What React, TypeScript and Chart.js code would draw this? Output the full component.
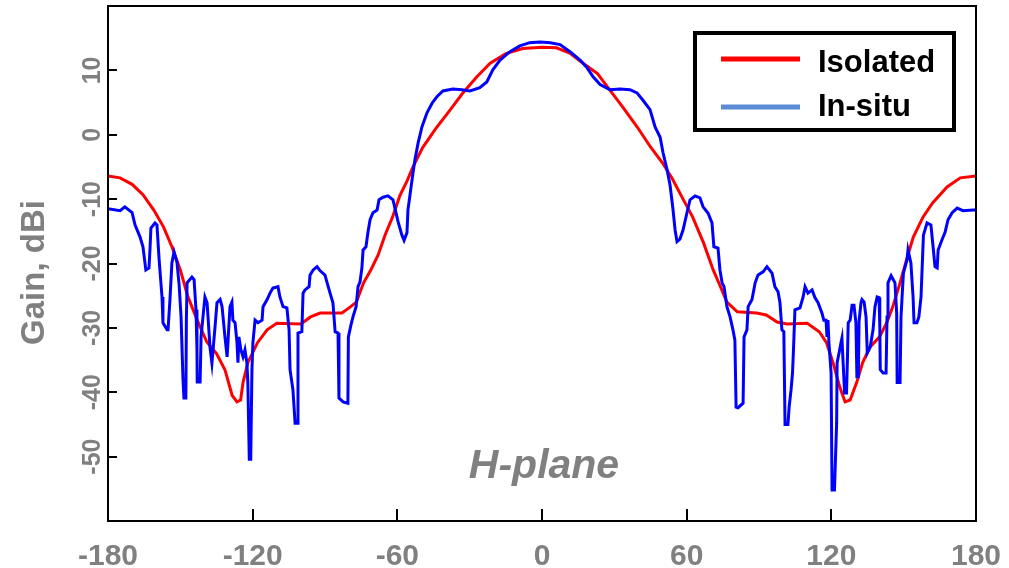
import React, { useEffect, useRef } from "react";
import { Chart, registerables } from "chart.js";

Chart.register(...registerables);

// ---- Data (angle in degrees, gain in dBi) ----
const redAngles = [
  -180, -175, -170, -165.5, -161, -157, -153.5, -150, -147, -143, -139, -135, -131.5, -128.5, -126.5, -125,
  -124, -122, -118, -114, -110, -100, -96, -92, -83, -80, -77, -74, -71, -68, -65, -62, -59, -56, -53.5,
  -49.5, -44, -38, -33, -27, -21.5, -15, -8, 0, 6, 11.5, 17, 23, 28, 33.5, 39.5, 45, 50, 54, 58.5, 62.5, 67,
  71, 74, 76.7, 81, 89, 93, 97.5, 101.5, 110, 115, 118, 120.7, 123.5, 125.7, 127.8, 130.5, 133, 136, 140,
  143, 145.5, 148.5, 151.5, 154, 158, 162, 168, 173.5, 180,
];
const redGain = [
  -6.4, -6.7, -7.7, -9.3, -11.7, -14.3, -17.4, -21, -25, -28.8, -32.2, -34, -36.5, -40.5, -41.5, -41.2,
  -38.5, -35.4, -32.3, -30.3, -29.3, -29.4, -28.3, -27.7, -27.7, -26.9, -26, -23, -21, -18.7, -15.5, -12.8,
  -9.5, -7.2, -5, -2, 1, 3.9, 6.4, 9, 11.1, 12.6, 13.4, 13.6, 13.5, 12.7, 11.1, 9.5, 7, 4.3, 1.2, -1.9, -4.4,
  -6.8, -10, -12.8, -16.8, -21, -23.6, -26, -27.5, -27.7, -28, -29.1, -29.4, -29.3, -30.6, -32.3, -35.4,
  -39.2, -41.5, -41.2, -38.5, -35.4, -33, -31.4, -29.2, -26.7, -23, -19, -15.9, -12.8, -10.6, -8.1, -6.7, -6.4,
];

const blueAngles = [
  -180, -175, -173, -170, -168.8, -166.7, -165.5, -164.3, -163, -162.6, -162.2, -160.5, -159.7, -158.8,
  -157.6, -157.2, -155.5, -155.1, -154.3, -153.5, -152.6, -151.4, -150.5, -149.7, -148.9, -148.5, -147.7,
  -147.5, -147.2, -145.2, -144.3, -143.5, -143.1, -143, -141.8, -141.4, -140.6, -139.8, -138.9, -138.5,
  -137.7, -136.9, -135.6, -134.8, -133.5, -132.7, -131.9, -131.5, -130.6, -130.2, -129.4, -128.6, -128.2,
  -127.3, -126.5, -126.1, -125.7, -124.9, -124, -123.2, -122.4, -122, -121.4, -120.8, -120.3, -119.9, -119,
  -117.8, -116.1, -115.7, -114, -112.8, -111.6, -109.5, -108.7, -107.4, -105.8, -104.9, -104.5, -103.3,
  -102.4, -101.6, -101.2, -99.6, -99.1, -98.3, -96.6, -96.2, -94.9, -93.3, -92.1, -90, -89.2, -87.9, -86.7,
  -85.8, -84.6, -84.2, -82.5, -80.5, -80.3, -79.2, -78.4, -77.1, -76.3, -75.5, -74.7, -74.2, -73, -72.2,
  -71.3, -70.1, -68.4, -67.6, -65.9, -63.9, -61.8, -61, -59.7, -58.1, -57.2, -56, -55.6, -54.3, -53.5,
  -52.7, -51.4, -49.8, -47.7, -45.6, -43.6, -41.1, -37, -33.2, -29.9, -25.8, -22.9, -20.4, -17.4, -13.3,
  -9.2, -5.1, -0.8, 3.4, 7.5, 11.6, 15.8, 18.7, 21.2, 24.1, 28.2, 32.4, 36.5, 39.4, 41.8, 44.8, 46.9, 49,
  50.2, 51.9, 53.1, 54.3, 55.2, 56, 57.2, 58.5, 60.2, 61.4, 63.5, 65.5, 66.8, 68.9, 70.5, 71.3, 73, 73.8,
  74.7, 75.5, 76.7, 78, 79.2, 80, 80.5, 81.3, 83.4, 83.8, 85, 85.5, 87.1, 88.4, 89.6, 91.7, 93.3, 95.4, 96.6,
  97.9, 98.7, 99.5, 100.3, 100.8, 102, 102.5, 103.3, 103.9, 104.3, 104.9, 107, 108.3, 109.1, 110.3, 112,
  113.2, 114.5, 116.1, 116.9, 117.8, 118.2, 118.6, 119, 119.9, 120.3, 121.3, 122.2, 122.4, 123.2, 124,
  124.4, 124.8, 125.5, 126.3, 126.7, 127, 127.8, 128.6, 129.4, 130.2, 130.6, 131.2, 131.5, 132.3, 132.7,
  133.6, 134.4, 134.9, 136.1, 137.3, 138.1, 139, 139.8, 140.1, 140.3, 141.5, 142.7, 143.1, 143.5, 144.8,
  146.4, 147.1, 147.3, 148.5, 148.9, 149.5, 149.9, 151.4, 151.8, 153, 153.9, 154.3, 155.5, 156.3, 157.2,
  157.8, 158.2, 159.7, 161.3, 162.2, 163, 163.9, 164.3, 165.9, 167.2, 168.4, 170.1, 172.2, 174.6, 178.8, 180,
];
const blueGain = [
  -11.5, -11.8, -11.2, -12.1, -14, -15.9, -17.4, -21, -20.7, -17.9, -14.5, -13.7, -14, -19.4, -25.2, -29.2,
  -30.3, -30.3, -25.6, -19.9, -18.2, -19.8, -23.3, -28.3, -38, -40.9, -40.9, -28.8, -23, -22.1, -22.5, -27.2,
  -33.4, -38.4, -38.4, -31.4, -28.3, -25.2, -26.1, -28.4, -33, -35.5, -29.8, -26.1, -25.6, -26.7, -29.8,
  -31.4, -34.5, -31.9, -26.7, -26, -28.8, -29.2, -32.3, -35.4, -31.4, -33.4, -34.5, -33.4, -35.4, -38.5,
  -50.4, -50.4, -36.5, -32.3, -28.8, -29.2, -28.8, -26.7, -25.6, -24.6, -23.8, -23.6, -25.2, -26.7, -26.9,
  -30.3, -36.5, -39.6, -44.8, -44.8, -30.8, -30.6, -24.6, -24.1, -23.6, -21.8, -21, -20.5, -21.1, -21.8,
  -22.9, -24.6, -26.1, -30.6, -30.8, -40.9, -41.5, -41.7, -31.4, -29.5, -28.3, -26.7, -23.6, -22.9, -20.7,
  -17.9, -17.4, -15.2, -13.2, -12.1, -11.7, -10.1, -9.7, -9.5, -10.1, -11.4, -13.5, -15.6, -16.4, -15.2,
  -11.7, -8.1, -5.9, -3.9, -1.3, 1.2, 3.4, 4.9, 5.9, 6.8, 7.1, 7, 6.8, 7.3, 8.2, 10.1, 11.6, 12.9, 13.8,
  14.3, 14.4, 14.3, 14, 12.9, 11.6, 10.4, 9, 7.8, 7, 7.1, 7, 6.5, 5.4, 3.9, 1.2, -0.4, -2.8, -5.5, -7.8,
  -11.5, -14.8, -16.6, -16.2, -14.8, -12, -10.1, -9.5, -9.8, -11.2, -12.2, -13.7, -17.4, -17.6, -21, -23,
  -23.6, -26.7, -28.3, -30.3, -31.9, -42.3, -42.4, -41.7, -31.4, -30.3, -26.7, -25.6, -23, -21.8, -21.3,
  -20.5, -21.5, -23.6, -24.4, -26.1, -30.3, -30.6, -45, -45, -42.3, -39.6, -37, -33.4, -27.2, -26.9, -25.2,
  -23.6, -24.6, -24.1, -25.3, -26.1, -27.7, -28.8, -28.8, -31.4, -28.8, -32.3, -37, -55.2, -55.2, -44.8,
  -35.4, -33.9, -32.3, -31.6, -34.7, -40.1, -40.1, -34.5, -29.2, -28.8, -26.5, -26.5, -29.2, -37.6, -37.6,
  -29, -26.1, -25.6, -26, -28.3, -33.9, -33, -30.3, -26.7, -25.2, -25.3, -29.8, -36.5, -37, -37, -28.3, -23,
  -21.9, -23, -27.7, -38.5, -38.5, -28.3, -24.1, -21.5, -19.4, -17.9, -19.9, -25.2, -29.2, -29.2, -28.3,
  -25.2, -19.4, -15.6, -13.7, -14, -17.4, -20.5, -20.7, -17.9, -16.3, -15.1, -13.2, -12.1, -11.4, -11.8,
  -11.7, -11.7,
];

const xTicks = [-180, -120, -60, 0, 60, 120, 180];
const yTicks = [10, 0, -10, -20, -30, -40, -50];
const seriesNames = ["Isolated", "In-situ"];
const yTitle = "Gain, dBi";
const planeLabel = "H-plane";

const FONT = '"Liberation Sans", Arial, Helvetica, sans-serif';
const GREY = "#808080";
const RED = "#ff0000";
const BLUE = "#0000ff";
const LEGEND_BLUE = "#5b8dd6";

export default function App() {
  const ref = useRef<HTMLCanvasElement>(null);

  useEffect(() => {
    const canvas = ref.current;
    if (!canvas) return;

    const overlay = {
      id: "overlay",
      afterDraw(chart: any) {
        const c = chart.ctx as CanvasRenderingContext2D;
        const { left, right, top, bottom } = chart.chartArea;
        const xs = chart.scales.x;
        const ys = chart.scales.y;
        c.save();

        // frame
        c.strokeStyle = "#000";
        c.lineWidth = 2;
        c.strokeRect(left, top, right - left, bottom - top);

        // inner tick marks
        c.beginPath();
        for (const v of xTicks) {
          if (v <= -180 || v >= 180) continue;
          const px = Math.round(xs.getPixelForValue(v));
          c.moveTo(px, bottom);
          c.lineTo(px, bottom - 12);
        }
        for (const v of yTicks) {
          const py = Math.round(ys.getPixelForValue(v));
          c.moveTo(left, py);
          c.lineTo(left + 9, py);
        }
        c.stroke();

        // y tick labels (rotated)
        c.fillStyle = GREY;
        c.font = `bold 25px ${FONT}`;
        c.textAlign = "center";
        c.textBaseline = "alphabetic";
        for (const v of yTicks) {
          const py = ys.getPixelForValue(v);
          c.save();
          c.translate(left - 8, py);
          c.rotate(-Math.PI / 2);
          c.fillText(String(v), 0, 0);
          c.restore();
        }

        // y title
        c.font = `bold 33px ${FONT}`;
        c.save();
        c.translate(44, (top + bottom) / 2 + 9);
        c.rotate(-Math.PI / 2);
        c.fillText(yTitle, 0, 0);
        c.restore();

        // plane label
        c.font = `italic bold 41px ${FONT}`;
        c.textAlign = "center";
        c.fillText(planeLabel, xs.getPixelForValue(0) + 2, 478);

        // legend
        const lx = 695, ly = 33, lw = 259, lh = 97;
        c.fillStyle = "#fff";
        c.fillRect(lx, ly, lw, lh);
        c.strokeStyle = "#000";
        c.lineWidth = 4;
        c.strokeRect(lx, ly, lw, lh);
        const colors = [RED, LEGEND_BLUE];
        const rowsY = [59, 107];
        const textY = [63, 107];
        c.font = `bold 31px ${FONT}`;
        c.textAlign = "left";
        c.textBaseline = "middle";
        for (let i = 0; i < seriesNames.length; i++) {
          c.strokeStyle = colors[i];
          c.lineWidth = 5;
          c.beginPath();
          c.moveTo(721, rowsY[i]);
          c.lineTo(800, rowsY[i]);
          c.stroke();
          c.fillStyle = "#000";
          c.fillText(seriesNames[i], 818, textY[i]);
        }
        c.restore();
      },
    };

    const chart = new Chart(canvas, {
      type: "line",
      data: {
        datasets: [
          {
            label: seriesNames[0],
            data: redAngles.map((a, i) => ({ x: a, y: redGain[i] })),
            borderColor: RED,
            borderWidth: 3,
            pointRadius: 0,
            tension: 0,
            fill: false,
            order: 1,
          },
          {
            label: seriesNames[1],
            data: blueAngles.map((a, i) => ({ x: a, y: blueGain[i] })),
            borderColor: BLUE,
            borderWidth: 3,
            pointRadius: 0,
            tension: 0,
            fill: false,
            order: 0,
          },
        ],
      },
      options: {
        responsive: false,
        animation: false,
        devicePixelRatio: 1,
        layout: { padding: { top: 6, right: 33, left: 0, bottom: 0 } },
        plugins: { legend: { display: false }, tooltip: { enabled: false } },
        scales: {
          x: {
            type: "linear",
            min: -180,
            max: 180,
            afterFit: (s: any) => {
              s.height = 47;
              s.paddingLeft = 0;
              s.paddingRight = 0;
            },
            afterBuildTicks: (s: any) => {
              s.ticks = xTicks.map((v) => ({ value: v }));
            },
            ticks: {
              color: GREY,
              font: { family: FONT, size: 30, weight: "bold" },
              padding: 18,
              maxRotation: 0,
              autoSkip: false,
            },
            grid: { display: false, drawTicks: false },
            border: { display: false },
          },
          y: {
            type: "linear",
            min: -60,
            max: 20,
            afterFit: (s: any) => {
              s.width = 108;
              s.paddingTop = 0;
              s.paddingBottom = 0;
            },
            ticks: { display: false, stepSize: 10 },
            grid: { display: false, drawTicks: false },
            border: { display: false },
          },
        },
      },
      plugins: [overlay],
    });

    return () => chart.destroy();
  }, []);

  return (
    <div style={{ position: "fixed", left: 0, top: 0, width: 1009, height: 568, background: "#fff" }}>
      <canvas ref={ref} width={1009} height={568} style={{ display: "block" }} />
    </div>
  );
}
